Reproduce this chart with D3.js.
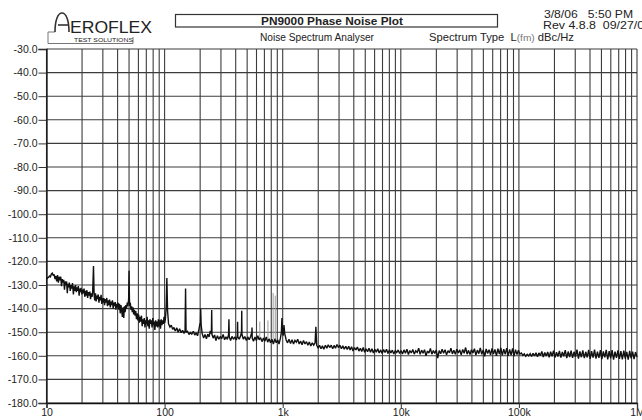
<!DOCTYPE html>
<html>
<head>
<meta charset="utf-8">
<script src="https://cdn.jsdelivr.net/npm/d3@7/dist/d3.min.js"></script>
<style>
  html, body { margin: 0; padding: 0; background: #fff; }
  svg { display: block; }
  text { font-family: "Liberation Sans", Arial, sans-serif; fill: #222; white-space: pre; }
</style>
</head>
<body>
<svg id="chart" width="642" height="420"></svg>
<script>
// ---- Data ----
const yTicks = [-30, -40, -50, -60, -70, -80, -90, -100, -110, -120, -130, -140, -150, -160, -170, -180];
const xTickValues = [10, 100, 1000, 10000, 100000, 1000000];
const xTickLabels = ["10", "100", "1k", "10k", "100k", "1M"];

// Measured L(fm) trace: [offset frequency Hz, dBc/Hz]
const spectrum = [
  [10,-127.5],[10.2,-127],[10.4,-126.8],[10.6,-126.2],[10.8,-126.5],[11.0,-125.3],[11.2,-125],[11.4,-126],
  [11.6,-125.5],[11.8,-127.5],[12.0,-126.2],[12.2,-128.5],[12.4,-125.8],[12.6,-129],[12.8,-126.5],[13.0,-128],
  [13.2,-126.5],[13.4,-130.5],[13.6,-127.5],[13.8,-129],[14.0,-127.8],[14.2,-132],[14.4,-128.5],[14.6,-130],
  [14.8,-128.5],[15.0,-133.5],[15.2,-129.5],[15.4,-131],[15.6,-129],[15.9,-132.5],[16.1,-130],[16.4,-131.5],
  [16.6,-129.2],[16.9,-134],[17.1,-130.5],[17.4,-132.5],[17.6,-130],[17.9,-133],[18.1,-131],[18.4,-132.5],
  [18.6,-130.5],[18.9,-134.5],[19.1,-131.5],[19.4,-133],[19.6,-131.2],[19.9,-134],[20.2,-132],[20.5,-133.5],
  [20.8,-131.5],[21.1,-135],[21.4,-132.5],[21.7,-134.5],[22.0,-132.2],[22.3,-135.5],[22.6,-133],[23.0,-134.5],
  [23.3,-132.8],[23.6,-136],[24.0,-133.5],[24.3,-135],[24.6,-133],[25.0,-122],[25.3,-134],[25.6,-136.5],
  [26.0,-133.5],[26.3,-137],[26.7,-134.5],[27.0,-136],[27.4,-134],[27.8,-137.5],[28.2,-135],[28.6,-136.5],
  [29.0,-134.2],[29.4,-138],[29.8,-135.5],[30.2,-137.5],[30.6,-135.5],[31.0,-138.5],[31.5,-136],[31.9,-137.5],
  [32.4,-135.5],[32.8,-139],[33.3,-136.5],[33.7,-138.5],[34.2,-136.2],[34.7,-139.5],[35.2,-137],[35.7,-138.5],
  [36.2,-136.5],[36.7,-140],[37.2,-137.5],[37.7,-139],[38.2,-137.2],[38.7,-140.5],[39.3,-138],[39.8,-139.5],
  [40.4,-137.5],[41.0,-140.5],[41.5,-138],[42.1,-142],[42.7,-138.5],[43.3,-141],[43.9,-143.5],[44.5,-139.5],
  [45.1,-144],[45.7,-139],[46.3,-141.5],[47.0,-138.5],[47.6,-140],[48.3,-137.5],[48.9,-139],[49.6,-136],
  [50.0,-124],[50.4,-136.5],[50.8,-139],[51.2,-137.5],[51.9,-140.5],[52.6,-139],[53.3,-141.5],[54.0,-139.5],
  [54.7,-142.5],[55.5,-140.5],[56.2,-143],[57.0,-141],[57.8,-144.5],[58.6,-142],[59.4,-145],[60.3,-142.5],
  [61.1,-146],[62.0,-143.5],[62.8,-145.5],[63.7,-143],[64.6,-147.5],[65.5,-144.5],[66.4,-146.5],[67.3,-144],
  [68.2,-148],[69.2,-145],[70.1,-146.5],[71.1,-143.5],[72.1,-147.5],[73.1,-145],[74.1,-148.5],[75.1,-144.5],
  [76.1,-146.5],[77.2,-145],[78.3,-148],[79.4,-144],[80.5,-147],[81.6,-145.5],[82.7,-149],[83.9,-145],
  [85.0,-147.5],[86.2,-145.5],[87.4,-148],[88.6,-144.5],[89.8,-147.5],[91.1,-145],[92.3,-148.5],[93.6,-144.5],
  [94.9,-147],[96.2,-145],[97.5,-146.5],[98.9,-143.5],[100.2,-146],[101.5,-144.5],[103,-140],[104.5,-127],
  [106,-141],[108,-146.5],[111,-147.8],[114,-147],[117,-148.8],[120,-148],[123,-149.5],[127,-148.2],
  [130,-150],[134,-148.5],[138,-150.2],[142,-149.2],[146,-150.5],[149,-149.5],[150.5,-131.5],[152,-150],
  [156,-149.6],[161,-151],[165,-150.2],[170,-150.8],[175,-149.6],[180,-151.2],[185,-150.3],[190,-151.5],
  [195,-149],[199,-146.5],[201,-146],[202,-140],[204,-147],[208,-150.5],[214,-152.5],[220,-151],
  [226,-152.8],[232,-150.8],[238,-152],[244,-149.5],[249,-150.5],[250.5,-140.6],[252,-151],[258,-152.5],
  [265,-151.2],[272,-153.5],[280,-151.5],[288,-153],[296,-151.8],[304,-152.8],[313,-151],[322,-153.2],
  [331,-152],[340,-153],[348,-151],[350.5,-144.5],[353,-152],[362,-153.5],[372,-151.8],[383,-153],
  [394,-152],[405,-153.3],[413,-151.5],[415,-145.6],[417,-152],[428,-153],[440,-151.5],[448,-150],
  [450,-140.9],[452,-151],[465,-153],[478,-151.8],[492,-153.5],[506,-152],[520,-153.2],[535,-151.8],
  [548,-150],[550,-148],[552,-152.5],[566,-153.8],[582,-152],[598,-153.5],[615,-151.5],[632,-153.2],
  [650,-152.3],[668,-154],[687,-152.5],[706,-153.8],[726,-152],[746,-154.2],[767,-152.8],[789,-154.5],
  [811,-153],[834,-155],[857,-152.8],[881,-154.5],[906,-153.2],[931,-155],[957,-152.5],[975,-150],
  [985,-144],[995,-149.5],[1010,-151.5],[1025,-147],[1040,-150.5],[1070,-153.3],[1100,-154.5],[1130,-153],
  [1165,-154.8],[1200,-153.2],[1235,-155],[1270,-153.5],[1305,-154.2],[1340,-153],[1380,-155],[1420,-153.8],
  [1460,-155.3],[1500,-153.5],[1545,-155],[1590,-154],[1635,-155.5],[1680,-154.2],[1730,-155.8],[1780,-154.5],
  [1830,-155.5],[1880,-154.5],[1910,-147.7],[1940,-155.5],[1995,-156.8],[2050,-155.5],[2110,-157],[2170,-155.8],
  [2230,-157.2],[2300,-155.5],[2365,-156.8],[2430,-155.3],[2500,-156.5],[2575,-155.5],[2650,-157],[2725,-155.6],
  [2800,-156.8],[2880,-155.2],[2965,-156.5],[3050,-155.5],[3140,-157],[3230,-155.8],[3320,-157.2],[3420,-156],
  [3520,-157.3],[3620,-156],[3720,-157.5],[3830,-156.2],[3940,-158],[4055,-156.5],[4170,-157.5],[4290,-156.3],
  [4415,-158],[4540,-156.8],[4670,-158.2],[4805,-156.5],[4945,-158.5],[5085,-157],[5230,-158.3],[5380,-156.8],
  [5535,-158.5],[5695,-157],[5860,-158.8],[6030,-157.2],[6200,-158.5],[6380,-157],[6565,-158.8],[6755,-157.5],
  [6950,-159],[7150,-157.3],[7355,-158.6],[7570,-157.2],[7785,-159],[8010,-157.5],[8240,-158.8],[8480,-157.6],
  [8725,-159.2],[8975,-157.8],[9235,-158.6],[9500,-157.5],[9775,-159],
  [10050,-157.8],[10340,-159.2],[10640,-157.5],[10950,-158.9],[11270,-157.2],[11600,-159.5],[11930,-157.8],[12280,-158.8],
  [12640,-157.3],[13000,-159.3],[13380,-157.9],[13770,-158.6],[14170,-156.8],[14580,-159.4],[15000,-157.6],[15440,-158.9],
  [15880,-157.4],[16340,-160],[16820,-158],[17300,-158.8],[17810,-156.9],[18320,-159.3],[18850,-157.8],[19400,-159],
  [19960,-157.5],[20540,-161],[21140,-157.8],[21750,-159.1],[22380,-157.2],[23030,-158.9],[23700,-157.4],[24390,-159.6],
  [25100,-157.8],[25830,-158.7],[26580,-156.8],[27350,-159.2],[28140,-157.6],[28960,-159.4],[29800,-157.2],[30660,-158.8],
  [31550,-157.5],[32470,-159.6],[33410,-157.3],[34380,-158.9],[35380,-156.5],[36410,-159.3],[37470,-157.7],[38550,-159.5],
  [39670,-157.4],[40820,-158.8],[42010,-157],[43230,-159.7],[44480,-157.6],[45770,-159.1],[47100,-156.7],[48470,-159.4],
  [49880,-157.5],[51330,-160.2],[52820,-157.1],[54350,-159],[55930,-157.4],[57550,-159.6],[59220,-156.9],[60940,-159.2],
  [62710,-157.3],[64530,-160],[66400,-157],[68330,-159.3],[70310,-156.6],[72350,-159.8],[74450,-157.2],[76610,-159.4],
  [78830,-156.8],[81120,-160],[83470,-157.3],[85890,-159.7],[88380,-156.9],[90950,-160.1],[93590,-157.4],[96300,-159.5],
  [99100,-157.6],
  [102000,-159.3],[105000,-158.8],[108000,-159.8],[111100,-159.2],[114300,-160.2],[117600,-159.4],[121000,-160],[124500,-159.1],
  [128100,-160.3],[131800,-158.9],[135600,-160.1],[139500,-158.7],[143600,-160.4],[147700,-158.8],[152000,-159.9],[156400,-158.2],
  [160900,-160.5],[165600,-158.6],[170400,-160.1],[175300,-158.4],[180400,-160.6],[185600,-158.3],[191000,-160.2],[196500,-157.8],
  [202200,-160.7],[208100,-158.5],[214100,-160.3],[220300,-157.9],[226700,-160.8],[233200,-158.4],[240000,-160.2],[246900,-157.6],
  [254100,-161],[261400,-158.2],[269000,-160.5],[276800,-157.8],[284800,-160.9],[293000,-158.3],[301500,-160.4],[310200,-157.4],
  [319200,-161.2],[328400,-158.1],[337900,-160.6],[347700,-157.7],[357800,-161],[368100,-158.3],[378800,-160.7],[389700,-157.5],
  [401000,-161.3],[412600,-158],[424600,-160.8],[436900,-157.4],[449500,-161.2],[462500,-158.2],[475900,-160.9],[489700,-157.6],
  [503900,-161.4],[518500,-158.1],[533500,-160.7],[549000,-157.5],[564900,-161.5],[581200,-158],[598000,-161],[615300,-157.6],
  [633100,-161.6],[651500,-158.2],[670300,-160.9],[689700,-157.7],[709700,-161.3],[730300,-158],[751400,-161.5],[773200,-157.8],
  [795600,-161.2],[818600,-158.3],[842300,-161.6],[866700,-157.9],[891800,-161.1],[917700,-158.2],[944300,-161.4],[971600,-158.4],
  [1000000,-160.5]
];

// Faint (grey) spurs: [frequency Hz, base dBc/Hz, peak dBc/Hz]
const faintSpurs = [[640,-152.5,-145.5],[750,-152.5,-145],[830,-153,-133.4],[865,-153,-134.5]];

// ---- Drawing ----
const svg = d3.select("#chart");
const x = d3.scaleLog().domain([10, 1e6]).range([46.5, 637]);
const y = d3.scaleLinear().domain([-180, -30]).range([403, 49]);

// vertical grid: 1..9 per decade
const gridX = x.ticks();
svg.append("g").selectAll("line").data(gridX).join("line")
  .attr("x1", d => x(d)).attr("x2", d => x(d))
  .attr("y1", y(-30)).attr("y2", y(-180))
  .attr("stroke", "#3c3c3c").attr("stroke-width", 1.1);

// horizontal grid
svg.append("g").selectAll("line").data(yTicks).join("line")
  .attr("x1", x(10)).attr("x2", x(1e6))
  .attr("y1", d => y(d)).attr("y2", d => y(d))
  .attr("stroke", "#3c3c3c").attr("stroke-width", 1.1);

// axes
const yAxis = d3.axisLeft(y).tickValues(yTicks).tickFormat(d => d.toFixed(1)).tickSize(8).tickPadding(1);
const gy = svg.append("g").attr("transform", `translate(${x(10)},0)`).call(yAxis);
gy.select(".domain").attr("stroke", "#111").attr("stroke-width", 1.3);
gy.selectAll(".tick line").attr("stroke", "#333");
gy.selectAll("text").style("font-size", "10.5px").attr("fill", "#333")
  .style("font-family", "'Liberation Sans', Arial, sans-serif");

const xAxis = d3.axisBottom(x).tickValues(xTickValues)
  .tickFormat((d, i) => xTickLabels[i]).tickSize(5).tickPadding(1);
const gx = svg.append("g").attr("transform", `translate(0,${y(-180)})`).call(xAxis);
gx.select(".domain").attr("stroke", "#111").attr("stroke-width", 1.3);
gx.selectAll(".tick line").attr("stroke", "#333");
gx.selectAll("text").style("font-size", "10.5px").attr("fill", "#333")
  .style("font-family", "'Liberation Sans', Arial, sans-serif");

// faint spurs
svg.append("g").selectAll("line").data(faintSpurs).join("line")
  .attr("x1", d => x(d[0])).attr("x2", d => x(d[0]))
  .attr("y1", d => y(d[1])).attr("y2", d => y(d[2]))
  .attr("stroke", "#9a9a9a").attr("stroke-width", 1);

// trace
const line = d3.line().x(d => x(d[0])).y(d => y(d[1]));
svg.append("path").datum(spectrum)
  .attr("d", line)
  .attr("fill", "none")
  .attr("stroke", "#111")
  .attr("stroke-width", 1.4)
  .attr("stroke-linejoin", "miter")
  .attr("stroke-miterlimit", 2);

// ---- Header ----
const hdr = svg.append("g");
// logo frame
hdr.append("path")
  .attr("d", "M48,32 L48,43.5 L133,43.5 L133,37")
  .attr("fill", "none").attr("stroke", "#777").attr("stroke-width", 1);
hdr.append("path")
  .attr("d", "M48,32 L55,32")
  .attr("fill", "none").attr("stroke", "#777").attr("stroke-width", 1);
// arch "A"
hdr.append("path")
  .attr("d", "M55,32 C55,20 58,13 62,13 C66,13 69,20 69,32")
  .attr("fill", "none").attr("stroke", "#333").attr("stroke-width", 1.6);
hdr.append("line").attr("x1", 58).attr("x2", 69).attr("y1", 25).attr("y2", 25)
  .attr("stroke", "#333").attr("stroke-width", 1.6);
hdr.append("text").attr("x", 70).attr("y", 32.5)
  .attr("textLength", 82).attr("lengthAdjust", "spacingAndGlyphs")
  .style("font-size", "17px").attr("fill", "#333").text("EROFLEX");
hdr.append("text").attr("x", 74).attr("y", 41.5)
  .attr("textLength", 59).attr("lengthAdjust", "spacingAndGlyphs")
  .style("font-size", "6px").attr("fill", "#888").text("TEST SOLUTIONS");

// title box
hdr.append("rect").attr("x", 175.5).attr("y", 14.5).attr("width", 322).attr("height", 12.5)
  .attr("fill", "none").attr("stroke", "#333").attr("stroke-width", 1.2);
hdr.append("text").attr("x", 332).attr("y", 25).attr("text-anchor", "middle")
  .attr("textLength", 142).attr("lengthAdjust", "spacingAndGlyphs")
  .style("font-size", "10.5px").style("font-weight", "bold").attr("fill", "#222")
  .text("PN9000 Phase Noise Plot");
hdr.append("text").attr("x", 260).attr("y", 40.5)
  .attr("textLength", 114).attr("lengthAdjust", "spacingAndGlyphs")
  .style("font-size", "10px").attr("fill", "#333").text("Noise Spectrum Analyser");
const st = hdr.append("text").attr("x", 429).attr("y", 40.5)
  .attr("textLength", 145).attr("lengthAdjust", "spacingAndGlyphs")
  .style("font-size", "10.5px").attr("fill", "#333");
st.append("tspan").text("Spectrum Type  L");
st.append("tspan").attr("fill", "#777").style("font-size", "9.5px").text("(fm)");
st.append("tspan").text(" dBc/Hz");
hdr.append("text").attr("x", 544).attr("y", 17.5)
  .attr("textLength", 89).attr("lengthAdjust", "spacingAndGlyphs")
  .style("font-size", "10px").attr("fill", "#333").text("3/8/06   5:50 PM");
hdr.append("text").attr("x", 543).attr("y", 28.5)
  .attr("textLength", 108).attr("lengthAdjust", "spacingAndGlyphs")
  .style("font-size", "10px").attr("fill", "#444").text("Rev 4.8.8  09/27/05");
</script>
</body>
</html>
